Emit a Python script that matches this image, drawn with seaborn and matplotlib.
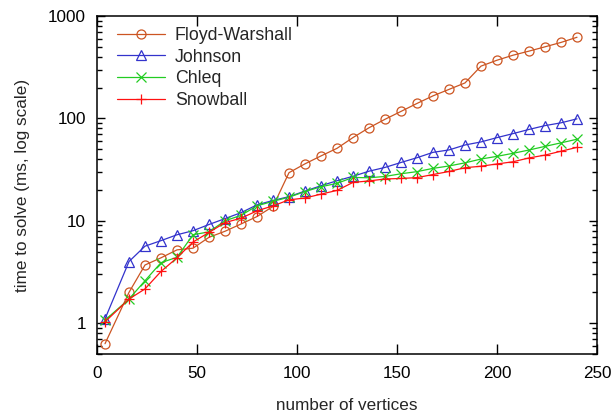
import matplotlib
matplotlib.use("Agg")
import matplotlib.pyplot as plt
import seaborn as sns
from matplotlib.ticker import LogLocator, NullFormatter, NullLocator

vertices = [4, 16, 24, 32, 40, 48, 56, 64, 72, 80, 88, 96, 104, 112, 120,
            128, 136, 144, 152, 160, 168, 176, 184, 192, 200, 208, 216, 224, 232, 240]
floyd_warshall = [0.63, 2.0, 3.7, 4.35, 5.2, 5.4, 6.9, 7.9, 9.3, 11.0, 13.8, 29.5, 36, 43, 51,
                  65, 81, 98, 117, 140, 166, 192, 222, 324, 370, 414, 454, 500, 552, 620]
johnson = [1.1, 4.0, 5.65, 6.4, 7.3, 8.0, 9.2, 10.5, 12.0, 14.3, 15.8, 17.2, 19.5, 22.0, 24.6,
           27.2, 30.5, 33.2, 37.1, 41.3, 46.6, 49.2, 55.0, 58.9, 64.9, 71.0, 78.0, 85.0, 90.5, 99.0]
chleq = [1.07, 1.72, 2.6, 3.9, 4.4, 7.3, 7.8, 10.0, 11.3, 14.0, 15.5, 17.0, 19.3, 21.5, 23.2,
         26.5, 26.3, 27.1, 28.8, 30.2, 32.5, 34.3, 36.8, 40.1, 42.6, 45.6, 49.1, 53.3, 57.7, 62.6]
snowball = [1.03, 1.72, 2.16, 3.2, 4.35, 6.2, 7.7, 9.6, 10.6, 12.5, 14.0, 16.0, 16.7, 18.2, 19.8,
            23.7, 24.5, 25.6, 25.9, 26.4, 28.3, 30.3, 33.0, 34.1, 35.9, 37.7, 41.1, 43.8, 47.8, 52.1]

series_names = ["Floyd-Warshall", "Johnson", "Chleq", "Snowball"]
series_values = [floyd_warshall, johnson, chleq, snowball]
series_colors = ["#cc5522", "#3333cc", "#22cc22", "#ff1111"]
series_markers = ["o", "^", "x", "+"]
series_msize = [6.5, 6.5, 6.5, 7.5]

x_ticks = [0, 50, 100, 150, 200, 250]
y_ticks = [1, 10, 100, 1000]
y_ticklabels = ["1", "10", "100", "1000"]

sns.set_style("ticks")
plt.rcParams['font.family'] = ['Liberation Sans', 'DejaVu Sans']
plt.rcParams['font.size'] = 12

fig = plt.figure(figsize=(6.13, 4.13), dpi=100)
ax = fig.add_axes([97 / 613, 1 - 354 / 413, 500 / 613, 338 / 413])

for name, vals, col, mk, ms in zip(series_names, series_values, series_colors,
                                   series_markers, series_msize):
    sns.lineplot(x=vertices, y=vals, ax=ax, color=col, marker=mk, markersize=ms,
                 markerfacecolor='none', markeredgecolor=col, markeredgewidth=0.9,
                 linewidth=0.9, label=name)

ax.set_yscale('log')
ax.set_xlim(0, 250)
ax.set_ylim(0.5, 1000)
ax.set_xticks(x_ticks)
ax.set_xticklabels([str(t) for t in x_ticks])
ax.xaxis.set_minor_locator(NullLocator())
ax.set_yticks(y_ticks)
ax.set_yticklabels(y_ticklabels)
ax.yaxis.set_minor_locator(LogLocator(base=10, subs=range(2, 10)))
ax.yaxis.set_minor_formatter(NullFormatter())

ax.tick_params(which='both', direction='in', top=True, right=True, colors='black',
               labelsize=12.3, width=1.0)
ax.tick_params(axis='x', which='major', length=7, pad=9)
ax.tick_params(axis='y', which='major', length=6, pad=8)
ax.tick_params(axis='y', which='minor', length=3.5)

for sp in ax.spines.values():
    sp.set_linewidth(1.1)
    sp.set_color('black')
    sp.set_visible(True)

ax.set_xlabel("number of vertices", fontsize=12.3, labelpad=12)
ax.set_ylabel("time to solve (ms, log scale)", fontsize=12.3, labelpad=13)

leg = ax.legend(loc='upper left', bbox_to_anchor=(0.04, 0.968), frameon=False,
                borderaxespad=0, borderpad=0, handlelength=2.7, handletextpad=0.55,
                labelspacing=0.27, fontsize=12.8)

fig.savefig("out.png", dpi=100)
